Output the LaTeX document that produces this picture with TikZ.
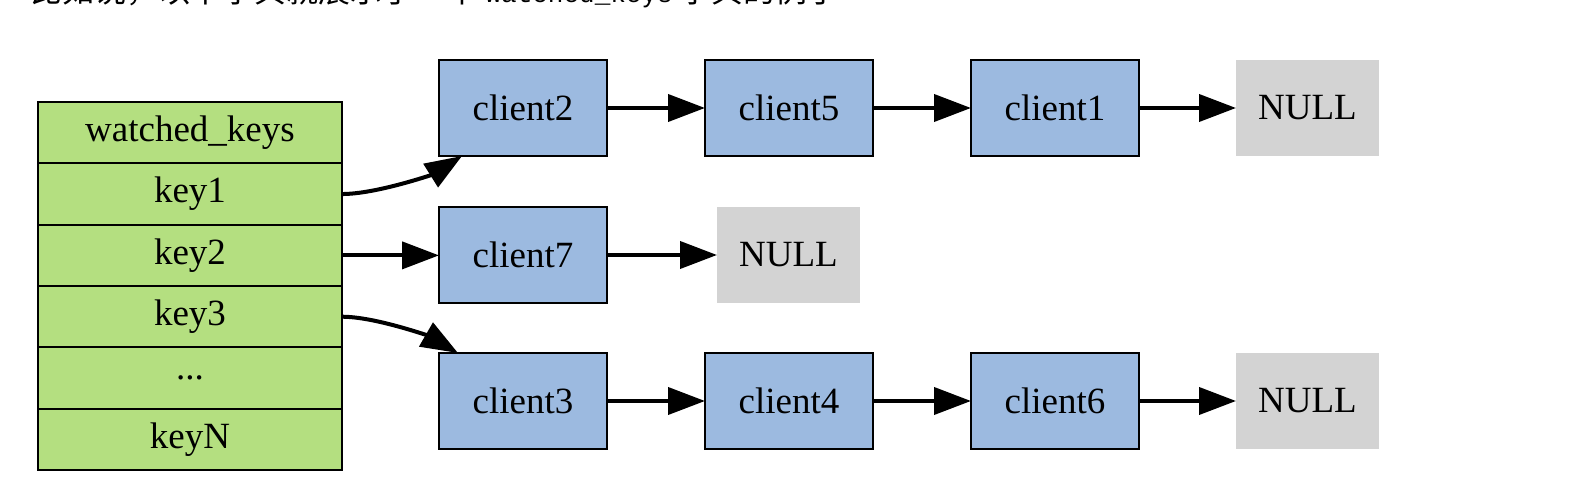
\documentclass[tikz,border=0pt]{standalone}
\usepackage{fontspec}
\setmainfont{Liberation Serif}
\newfontfamily\cjkfont{Noto Sans CJK SC}
\newfontfamily\codefont{Liberation Mono}
\usetikzlibrary{positioning,arrows.meta}

\definecolor{keygreen}{HTML}{B4DF80}
\definecolor{clientblue}{HTML}{9CBAE0}
\definecolor{nullgray}{HTML}{D3D3D3}

\tikzset{
  keyrow/.style={draw=black, line width=1pt, fill=keygreen, minimum width=152pt,
    minimum height=30.67pt, inner sep=0pt, outer sep=0pt},
  client/.style={draw=black, line width=1pt, fill=clientblue, minimum width=84pt,
    minimum height=48pt, inner sep=0pt, outer sep=0pt},
  nullbox/.style={fill=nullgray, minimum width=71.5pt, minimum height=48pt,
    inner sep=0pt, outer sep=0pt},
  link/.style={-{Triangle[length=18.5pt,width=13.5pt]}, line width=2pt},
}

\begin{document}
\begin{tikzpicture}[x=0.5pt, y=-0.5pt, font=\fontsize{18.5pt}{22pt}\selectfont]

\useasboundingbox (0,0) rectangle (1570,496);

% cut-off line of text above the figure
\begin{scope}
  \clip (0,0) rectangle (1570,496);
  \node[anchor=base west, inner sep=0pt, font=\cjkfont\fontsize{16pt}{19pt}\selectfont] (intro) at (30,3)
    {比如说，以下字典就展示了一个 {\codefont\fontsize{13pt}{15pt}\selectfont watched\_keys} 字典的例子};
\end{scope}

% the dictionary
\node[keyrow] (wk) at (190,132.7) {watched\_keys};
\node[keyrow, below=0pt of wk] (key1) {key1};
\node[keyrow, below=0pt of key1] (key2) {key2};
\node[keyrow, below=0pt of key2] (key3) {key3};
\node[keyrow, below=0pt of key3] (dots) {...};
\node[keyrow, below=0pt of dots] (keyN) {keyN};

% client lists
\node[client] (c2) at (523,108) {client2};
\node[client, right=49pt of c2] (c5) {client5};
\node[client, right=49pt of c5] (c1) {client1};
\node[nullbox, right=48.5pt of c1] (null1) {NULL};

\node[client, below=25.5pt of c2] (c7) {client7};
\node[nullbox, right=55pt of c7] (null2) {NULL};

\node[client, below=25pt of c7] (c3) {client3};
\node[client, right=49pt of c3] (c4) {client4};
\node[client, right=49pt of c4] (c6) {client6};
\node[nullbox, right=48.5pt of c6] (null3) {NULL};

% pointers
\draw[link] (key1.east) to[out=0, in=212, looseness=0.7] ([xshift=11.5pt]c2.south west);
\draw[link] (key2.east) -- (c7.west |- key2.east);
\draw[link] (key3.east) to[out=0, in=150, looseness=0.7] ([xshift=9.5pt]c3.north west);

\draw[link] (c2) -- (c5);
\draw[link] (c5) -- (c1);
\draw[link] (c1) -- (null1);
\draw[link] (c7) -- (null2);
\draw[link] (c3) -- (c4);
\draw[link] (c4) -- (c6);
\draw[link] (c6) -- (null3);

\end{tikzpicture}
\end{document}
